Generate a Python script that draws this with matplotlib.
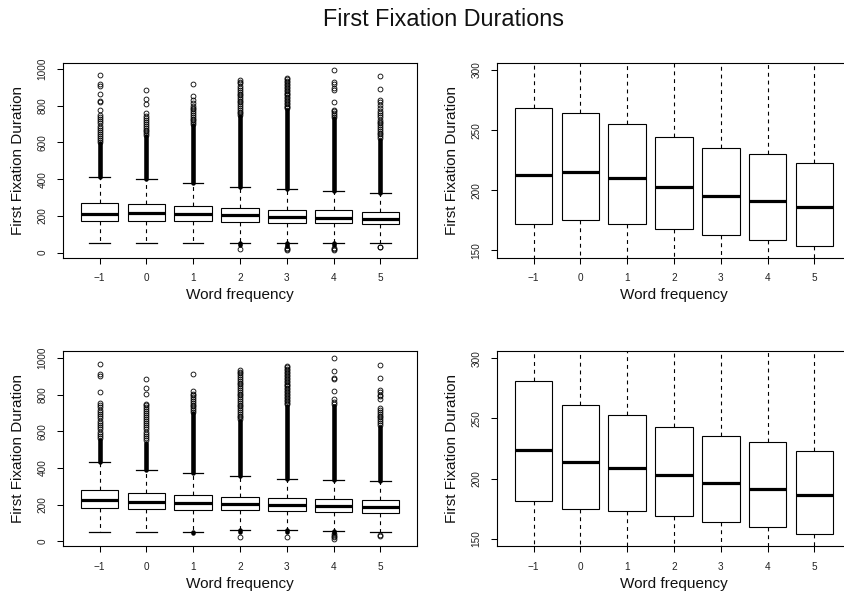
import matplotlib
matplotlib.use("Agg")
import matplotlib.pyplot as plt
import numpy as np

plt.rcParams["font.family"] = ["Liberation Sans", "DejaVu Sans"]

# Word-frequency bins
freq_labels = ["\u22121", "0", "1", "2", "3", "4", "5"]

# ---- upper row data ----
top_q1 = [172, 175, 172, 168, 163, 159, 154]
top_med = [213, 215, 210, 203, 195, 191, 186]
top_q3 = [268, 264, 255, 244, 235, 230, 223]
top_whis_lo = [50, 50, 50, 54, 55, 53, 51]
top_whis_hi = [411, 400, 378, 360, 345, 338, 327]
# extent of the packed outlier columns (above the upper whisker / below the lower one)
top_dense_hi = [596, 633, 696, 742, 778, 733, 615]
top_dense_lo = [50, 50, 50, 42, 35, 40, 51]
top_out_hi = [
    [969, 920, 909, 862, 826, 818, 775, 751, 740, 728, 716, 704, 692, 680, 668, 657, 646, 635, 624, 613, 604],
    [887, 836, 809, 760, 745, 735, 724, 713, 702, 692, 681, 670, 660, 650, 641],
    [918, 855, 829, 815, 800, 790, 780, 770, 760, 750, 740, 730, 720, 710, 703],
    [938, 930, 922, 905, 896, 885, 875, 866, 857, 848, 838, 828, 818, 808, 798, 788, 778, 768, 758, 750],
    [950, 943, 936, 928, 920, 912, 904, 896, 888, 880, 872, 864, 856, 848, 840, 832, 824, 816, 808, 800, 792, 785],
    [995, 929, 920, 895, 886, 818, 778, 769, 758, 748, 740],
    [962, 893, 833, 818, 805, 787, 772, 760, 748, 736, 724, 714, 704, 694, 684, 674, 664, 654, 644, 634, 624],
]
top_out_lo = [[], [], [], [22], [25, 18, 12], [28, 20, 15], [32, 29]]

# ---- lower row data ----
bot_q1 = [181, 175, 173, 169, 164, 160, 154]
bot_med = [224, 214, 209, 203, 196, 191, 186]
bot_q3 = [281, 261, 253, 243, 235, 230, 223]
bot_whis_lo = [50, 50, 50, 60, 60, 57, 50]
bot_whis_hi = [431, 389, 373, 355, 339, 333, 328]
bot_dense_hi = [552, 538, 697, 658, 740, 740, 625]
bot_dense_lo = [50, 50, 45, 50, 52, 45, 50]
bot_out_hi = [
    [964, 914, 901, 814, 755, 742, 730, 718, 706, 694, 682, 670, 658, 646, 634, 622, 610, 598, 586, 574, 562],
    [883, 838, 805, 751, 742, 731, 720, 709, 698, 687, 676, 665, 654, 643, 632, 621, 610, 598, 586, 574, 562, 550],
    [912, 820, 805, 795, 785, 775, 765, 755, 745, 735, 725, 715, 705],
    [935, 925, 915, 905, 895, 885, 875, 865, 855, 845, 835, 825, 815, 805, 795, 785, 775, 765, 755, 745, 735, 725, 715, 705, 695, 685, 675, 665],
    [955, 948, 940, 932, 924, 916, 908, 900, 892, 884, 876, 868, 860, 852, 844, 836, 828, 820, 812, 804, 796, 788, 780, 772, 764, 756, 748],
    [998, 928, 892, 885, 818, 778, 760, 750],
    [962, 890, 827, 815, 800, 790, 778, 724, 715, 705, 695, 685, 675, 665, 655, 645, 635],
]
bot_out_lo = [[], [], [], [25], [25], [40, 30, 22, 14], [35, 31]]

zoom_range = (150, 300)

W, H = 845, 605
fig = plt.figure(figsize=(W / 100, H / 100), dpi=100)

AX_W, AX_H = 354, 195


def add_axes(left_px, top_px):
    return fig.add_axes([left_px / W, 1 - (top_px + AX_H) / H, AX_W / W, AX_H / H])


ax_tl = add_axes(63, 62.7)
ax_tr = add_axes(497, 62.7)
ax_bl = add_axes(63, 351)
ax_br = add_axes(497, 351)

positions = np.arange(1, len(freq_labels) + 1)


def box_stats(q1, med, q3, lo, hi):
    return [dict(q1=a, med=b, q3=c, whislo=d, whishi=e, fliers=[])
            for a, b, c, d, e in zip(q1, med, q3, lo, hi)]


def draw_boxes(ax, stats):
    ax.bxp(stats, positions=positions, widths=0.8, capwidths=0.44,
           patch_artist=True, showfliers=False,
           boxprops=dict(facecolor="white", edgecolor="black", linewidth=0.8),
           medianprops=dict(color="black", linewidth=2.3, solid_capstyle="butt"),
           whiskerprops=dict(color="black", linewidth=0.8, linestyle=(0, (3.5, 3.5))),
           capprops=dict(color="black", linewidth=0.9))


MS = 3.5
COL_LW = 3.3


def draw_outliers(ax, whis_lo, whis_hi, dense_lo, dense_hi, out_lo, out_hi):
    for p, wl, wh, dl, dh, ol, oh in zip(positions, whis_lo, whis_hi, dense_lo,
                                         dense_hi, out_lo, out_hi):
        ax.plot([p, p], [wh, dh], color="black", lw=COL_LW,
                solid_capstyle="round", zorder=3)
        if dl < wl:
            ax.plot([p, p], [dl, wl], color="black", lw=COL_LW,
                    solid_capstyle="round", zorder=3)
        pts = list(oh) + list(ol)
        if pts:
            ax.plot([p] * len(pts), pts, "o", mfc="none", mec="black",
                    ms=MS, mew=0.6, zorder=3)


def style_axes(ax, ylim, yticks):
    ax.set_xlim(0.22, 7.78)
    ax.set_ylim(*ylim)
    ax.set_xticks(positions)
    ax.set_xticklabels(freq_labels)
    ax.set_yticks(yticks)
    ax.set_yticklabels([str(v) for v in yticks])
    ax.tick_params(axis="both", length=4.3, width=0.75, pad=7.0,
                   labelsize=7.2, color="black", labelcolor="#222222")
    ax.tick_params(axis="y", labelrotation=90)
    for lab in ax.get_yticklabels():
        lab.set_va("center")
    for s in ax.spines.values():
        s.set_linewidth(0.8)
        s.set_color("black")
    ax.set_xlabel("Word frequency", fontsize=11, color="#111111")
    ax.set_ylabel("First Fixation Duration", fontsize=11, color="#111111")
    ax.xaxis.label.set_va("center")
    ax.xaxis.set_label_coords(0.5, -(295 - 257.3) / AX_H)
    ax.yaxis.label.set_va("center")
    ax.yaxis.set_label_coords(-(63 - 18.5) / AX_W, 0.5)


def padded(values):
    lo, hi = min(values), max(values)
    pad = 0.04 * (hi - lo)
    return lo - pad, hi + pad


full_ticks = [0, 200, 400, 600, 800, 1000]
zoom_ticks = [150, 200, 250, 300]

panels = [
    (ax_tl, ax_tr, top_q1, top_med, top_q3, top_whis_lo, top_whis_hi,
     top_dense_lo, top_dense_hi, top_out_lo, top_out_hi),
    (ax_bl, ax_br, bot_q1, bot_med, bot_q3, bot_whis_lo, bot_whis_hi,
     bot_dense_lo, bot_dense_hi, bot_out_lo, bot_out_hi),
]

for (ax_full, ax_zoom, q1, med, q3, wlo, whi, dlo, dhi, olo, ohi) in panels:
    stats = box_stats(q1, med, q3, wlo, whi)
    draw_boxes(ax_full, stats)
    draw_outliers(ax_full, wlo, whi, dlo, dhi, olo, ohi)
    all_vals = [v for grp in olo + ohi for v in grp] + list(wlo) + list(whi)
    style_axes(ax_full, padded(all_vals), full_ticks)

    draw_boxes(ax_zoom, stats)
    style_axes(ax_zoom, padded(zoom_range), zoom_ticks)

fig.text(444 / W, 1 - 26 / H, "First Fixation Durations", ha="center",
         va="baseline", fontsize=16.8, color="#111111")

fig.savefig("out.png", dpi=100)
